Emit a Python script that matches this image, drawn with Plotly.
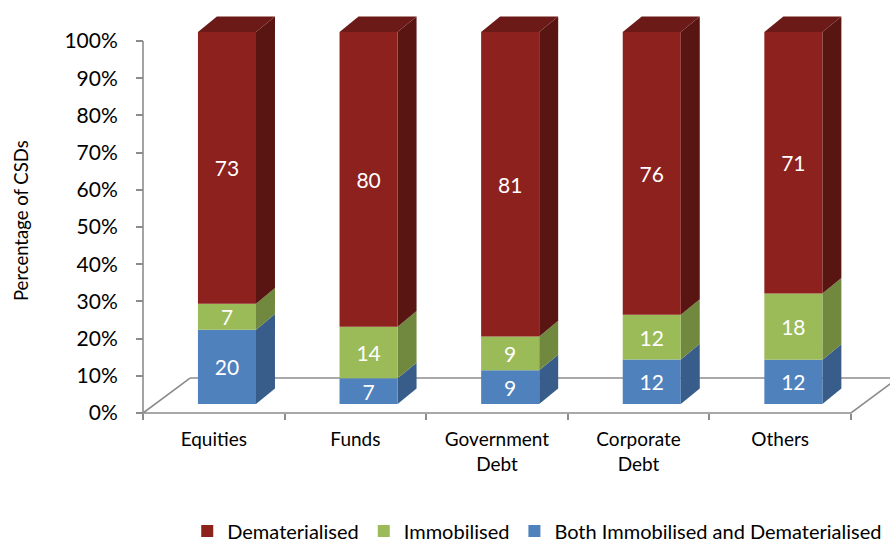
import plotly.graph_objects as go

# ---------------- data ----------------
categories = ["Equities", "Funds", "Government<br>Debt", "Corporate<br>Debt", "Others"]
both_vals = [20, 7, 9, 12, 12]        # Both Immobilised and Dematerialised
immob_vals = [7, 14, 9, 12, 18]       # Immobilised
demat_vals = [73, 80, 81, 76, 71]     # Dematerialised
y_tick_vals = [0, 10, 20, 30, 40, 50, 60, 70, 80, 90, 100]
y_tick_text = ["0%", "10%", "20%", "30%", "40%", "50%", "60%", "70%", "80%", "90%", "100%"]

series = [
    ("Both Immobilised and Dematerialised", both_vals, "#4F81BD", "#385D8A", "#4674AA"),
    ("Immobilised", immob_vals, "#9BBB59", "#71893F", "#86A34B"),
    ("Dematerialised", demat_vals, "#8C211E", "#581512", "#6B1A17"),
]

# ---------------- geometry / style ----------------
W, H = 890, 543
L, R, T, B = 133, 0, 5, 120
PX_X0, PX_PER_X = 143.0, 141.6
PX_Y0, PX_PER_Y = 413.0, 3.72
xmin = (L - PX_X0) / PX_PER_X
xmax = (W - R - PX_X0) / PX_PER_X
ymin = -((H - B) - PX_Y0) / PX_PER_Y
ymax = (PX_Y0 - T) / PX_PER_Y

BAR_W = 0.41
BAR_DX, BAR_DY = 0.093, 2.4      # front-face shift into depth
SIDE_DX, SIDE_DY = 0.134, 4.2    # bar depth
FLOOR_DX, FLOOR_DY = 0.332, 9.4  # floor depth
AX_COLOR = "#8C8C8C"
FONT = "Lato"

n = len(categories)
pos = [i + 0.5 for i in range(n)]
totals = [sum(s[1][i] for s in series) for i in range(n)]

fig = go.Figure()
shapes = []


def path(pts, closed=False):
    s = "M " + " L ".join(f"{x},{y}" for x, y in pts)
    return s + (" Z" if closed else "")


# floor (drawn below bars)
shapes.append(dict(type="path", layer="below", xref="x", yref="y",
                   path=path([(FLOOR_DX, FLOOR_DY), (0, 0), (n, 0), (n + FLOOR_DX, FLOOR_DY)]),
                   line=dict(color=AX_COLOR, width=1.6)))
shapes.append(dict(type="line", layer="below", xref="x", yref="y",
                   x0=FLOOR_DX, y0=FLOOR_DY, x1=n + FLOOR_DX, y1=FLOOR_DY,
                   line=dict(color=AX_COLOR, width=1.6)))
# y axis line 0..100
shapes.append(dict(type="line", layer="below", xref="x", yref="y",
                   x0=0, y0=0, x1=0, y1=100, line=dict(color=AX_COLOR, width=1.6)))

cum = [BAR_DY] * n
for k, (name, vals, front, side, top) in enumerate(series):
    h = [vals[i] / totals[i] * 100 for i in range(n)]
    fig.add_trace(go.Bar(
        name=name, x=pos, y=h, base=cum[:], width=BAR_W, offset=BAR_DX - BAR_W / 2,
        marker=dict(color=front, line=dict(width=0)),
        text=[str(v) for v in vals], textposition="inside", insidetextanchor="middle",
        textangle=0, constraintext="none",
        textfont=dict(color="white", size=21, family=FONT),
        hoverinfo="skip",
    ))
    for i in range(n):
        x1 = pos[i] + BAR_DX + BAR_W / 2
        y0, y1 = cum[i], cum[i] + h[i]
        shapes.append(dict(type="path", layer="below", xref="x", yref="y",
                           path=path([(x1, y0), (x1 + SIDE_DX, y0 + SIDE_DY),
                                      (x1 + SIDE_DX, y1 + SIDE_DY), (x1, y1)], True),
                           fillcolor=side, line=dict(width=0)))
        if k == len(series) - 1:
            x0 = pos[i] + BAR_DX - BAR_W / 2
            shapes.append(dict(type="path", layer="below", xref="x", yref="y",
                               path=path([(x0, y1), (x0 + SIDE_DX, y1 + SIDE_DY),
                                          (x1 + SIDE_DX, y1 + SIDE_DY), (x1, y1)], True),
                               fillcolor=top, line=dict(width=0)))
    cum = [cum[i] + h[i] for i in range(n)]

xpos_free = (0 - ymin) / (ymax - ymin)
ypos_free = (0 - xmin) / (xmax - xmin)
plot_h = H - B - T

fig.update_layout(
    width=W, height=H,
    margin=dict(l=L, r=R, t=T, b=B),
    paper_bgcolor="white", plot_bgcolor="white",
    barmode="overlay",
    font=dict(family=FONT, color="black"),
    shapes=shapes,
    showlegend=True,
    legend=dict(orientation="h", x=0.534, xanchor="center",
                yref="container", y=(H - 531) / H, yanchor="middle",
                traceorder="reversed", font=dict(size=20, family=FONT),
                bgcolor="rgba(0,0,0,0)"),
    xaxis=dict(range=[xmin, xmax], anchor="free", position=xpos_free,
               tickmode="array", tickvals=pos, ticktext=categories, ticks="",
               ticklabelstandoff=13,
               tickfont=dict(size=19, family=FONT),
               showgrid=False, zeroline=False, showline=False,
               minor=dict(ticks="outside", ticklen=6, tickcolor=AX_COLOR, tickwidth=1.6,
                          tickmode="linear", tick0=0, dtick=1, showgrid=False)),
    yaxis=dict(range=[ymin, ymax], anchor="free", position=ypos_free,
               tickmode="array", tickvals=y_tick_vals, ticktext=y_tick_text,
               ticks="outside", ticklen=7, tickcolor=AX_COLOR, tickwidth=1.6,
               ticklabelstandoff=14,
               tickfont=dict(size=21, family=FONT),
               showgrid=False, zeroline=False, showline=False),
    annotations=[dict(text="Percentage of CSDs", xref="paper", yref="paper",
                      x=(21 - L) / (W - L - R), y=((H - B) - 220) / plot_h,
                      textangle=-90, showarrow=False, xanchor="center", yanchor="middle",
                      font=dict(size=18.5, family=FONT, color="black"))],
)

fig.write_html("out.html", config={"displayModeBar": False},
               post_script="document.body.style.margin='0';document.body.style.overflow='hidden';")
